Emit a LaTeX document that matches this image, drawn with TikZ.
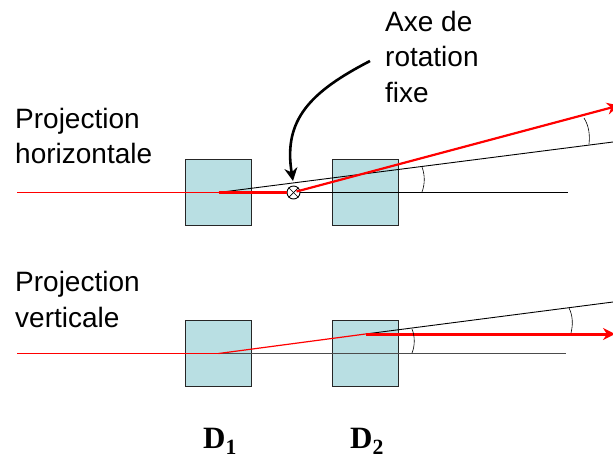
\documentclass[tikz,border=0pt]{standalone}
\usepackage{fontspec}
\setmainfont{Liberation Sans}
\newfontfamily\timesfont{Liberation Serif}
\usetikzlibrary{arrows.meta,positioning}
\definecolor{dipole}{HTML}{B9DFE3}
\tikzset{>=stealth,
  dipole/.style={draw=black!85,fill=dipole,line width=1.7pt,minimum size=66pt,inner sep=0pt},
  legende/.style={align=left,inner sep=0pt,font=\fontsize{28}{35.5}\selectfont},
  nomdipole/.style={inner sep=0pt,font=\fontsize{31}{36}\timesfont\bfseries},
  axe/.style={black,line width=0.9pt},
  angle/.style={black,line width=0.6pt},
  rayon/.style={red,line width=0.9pt},
  fort/.style={red,line width=2.2pt},
  pointe/.style={-{Stealth[length=#1,width=#1]}}}

\begin{document}
\begin{tikzpicture}[x=1pt,y=-1pt]
    \useasboundingbox (0,0) rectangle (613,459);
    % projection horizontale
    \node (d1h) [dipole] at (218.5,192.5) {};
    \node (d2h) [dipole] at (365.5,192.5) {};
    % projection verticale
    \node (d1v) [dipole] at (218.5,353.5) {};
    \node (d2v) [dipole] at (365.5,353.5) {};

    \node (projh) [legende,anchor=north west] at (15,108) {Projection\\horizontale};
    \node (projv) [legende,anchor=north west] at (15,271.5) {Projection\\verticale};
    \node (axetxt) [legende,anchor=north west] at (385,11) {Axe de\\rotation\\fixe};
    \node (nom1) [nomdipole] at (220,441.5) {D\textsubscript{1}};
    \node (nom2) [nomdipole] at (367,441.5) {D\textsubscript{2}};

    \node (rot) [draw,circle,fill=white,inner sep=0pt,minimum size=13pt,line width=0.9pt] at (293.5,192.5) {};
    \draw[line width=0.7pt] (rot.45) -- (rot.225);
    \draw[line width=0.7pt] (rot.135) -- (rot.-45);

    \coordinate (g1) at (17,192.5);
    \coordinate (g2) at (17,353.5);
    \coordinate (f1) at (568,192.5);
    \coordinate (f2) at (566,353.5);
    \coordinate (s1) at (613,142);
    \coordinate (s2) at (613,302);
    \coordinate (r1) at (619,105.5);
    \coordinate (r2) at (615,334);
    \coordinate (sortie) at (365.5,334);
    \coordinate (dep) at (370,61);
    \coordinate (fleche) at (293,181);

    % haut
    \draw[axe] (rot.east) -- (f1);
    \draw[axe] (d1h.center) -- (s1);
    \draw[rayon] (g1) -- (d1h.center);
    \draw[fort] (d1h.center) -- (rot.west);
    \draw[pointe=12pt,fort] (rot.center) ++(3,-1) -- (r1);
    \draw[pointe=13pt,black,line width=2.6pt] (dep) .. controls (310,92) and (283,120) .. (fleche);
    \draw[angle] (422,167) .. controls (425,175) and (425,184) .. (422,192);
    \draw[angle] (584,118) .. controls (589,126) and (590,135) .. (589,144);

    % bas
    \draw[axe,black!70] (d1v.center) -- (f2);
    \draw[axe] (g2) -- (d1v.center);
    \draw[axe] (sortie) -- (s2);
    \draw[rayon] (g2) -- (d1v.center);
    \draw[rayon,line width=1.2pt] (d1v.center) -- (sortie);
    \draw[pointe=12pt,fort,line width=3pt] (sortie) -- (r2);
    \draw[angle] (412,329) .. controls (415,336) and (415,346) .. (412,353);
    \draw[angle] (569,308) .. controls (573,316) and (573,325) .. (571,333);
\end{tikzpicture}
\end{document}
